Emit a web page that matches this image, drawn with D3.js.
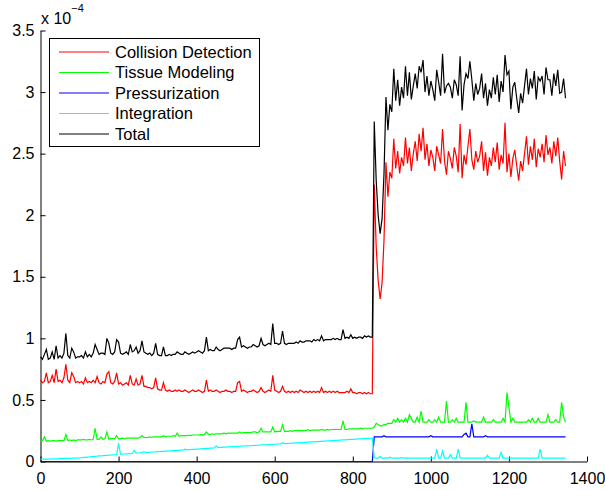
<!DOCTYPE html>
<meta charset="utf-8">
<script src="https://d3js.org/d3.v7.min.js"></script>
<style>
  body { margin: 0; background: #fff; }
  text { font-family: "Liberation Sans", Arial, Helvetica, sans-serif; }
</style>
<body>
<div id="chart"></div>
<script>

// one reading every 5 iterations, x = 0, 5, ... 1345 (values in units of 1e-4)
var sampleStep = 5;

var collision = [
  0.66,0.64,0.65,0.72,0.64,0.65,0.70,0.64,0.75,0.65,
  0.66,0.64,0.68,0.79,0.66,0.64,0.72,0.69,0.64,0.65,
  0.64,0.65,0.63,0.68,0.64,0.65,0.64,0.66,0.64,0.69,
  0.64,0.63,0.65,0.64,0.71,0.73,0.64,0.63,0.65,0.72,
  0.63,0.64,0.62,0.63,0.64,0.62,0.70,0.63,0.62,0.67,
  0.62,0.63,0.70,0.61,0.61,0.60,0.60,0.59,0.60,0.68,
  0.59,0.58,0.58,0.64,0.58,0.57,0.58,0.57,0.57,0.58,
  0.57,0.58,0.57,0.57,0.58,0.57,0.56,0.57,0.58,0.57,
  0.57,0.58,0.57,0.56,0.57,0.66,0.57,0.58,0.57,0.57,
  0.58,0.57,0.56,0.57,0.57,0.58,0.57,0.57,0.56,0.57,
  0.57,0.64,0.65,0.57,0.58,0.57,0.56,0.57,0.57,0.58,
  0.57,0.56,0.57,0.60,0.57,0.56,0.57,0.58,0.57,0.70,
  0.58,0.57,0.56,0.57,0.61,0.57,0.56,0.57,0.56,0.57,
  0.56,0.57,0.56,0.58,0.57,0.56,0.57,0.56,0.57,0.56,
  0.57,0.56,0.57,0.56,0.60,0.56,0.57,0.56,0.57,0.56,
  0.57,0.56,0.57,0.56,0.56,0.56,0.56,0.57,0.56,0.59,
  0.56,0.56,0.55,0.56,0.56,0.55,0.56,0.55,0.56,0.55,
  0.55,
  2.25,1.74,1.47,1.32,1.45,1.80,2.43,2.15,2.35,2.30,
  2.62,2.38,2.52,2.34,2.47,2.40,2.63,2.42,2.55,2.36,
  2.50,2.60,2.44,2.66,2.52,2.71,2.45,2.58,2.40,2.53,
  2.47,2.36,2.56,2.49,2.42,2.70,2.44,2.33,2.52,2.46,
  2.38,2.55,2.48,2.35,2.74,2.30,2.49,2.41,2.56,2.70,
  2.45,2.37,2.52,2.43,2.48,2.60,2.36,2.51,2.32,2.47,
  2.40,2.55,2.43,2.59,2.37,2.49,2.42,2.75,2.35,2.50,
  2.31,2.46,2.53,2.40,2.28,2.44,2.36,2.50,2.64,2.41,
  2.56,2.45,2.62,2.39,2.54,2.47,2.58,2.43,2.65,2.49,
  2.55,2.42,2.60,2.48,2.63,2.44,2.29,2.52,2.40
];

var tissue = [
  0.165,0.17,0.2,0.165,0.17,0.165,0.17,0.17,0.165,0.17,
  0.17,0.17,0.17,0.22,0.17,0.175,0.17,0.175,0.17,0.175,
  0.175,0.175,0.18,0.175,0.175,0.18,0.175,0.18,0.27,0.18,
  0.18,0.2,0.18,0.185,0.24,0.18,0.185,0.185,0.185,0.21,
  0.185,0.185,0.19,0.185,0.19,0.19,0.19,0.19,0.19,0.19,
  0.19,0.195,0.21,0.195,0.195,0.195,0.2,0.195,0.2,0.2,
  0.2,0.2,0.2,0.21,0.2,0.205,0.205,0.205,0.21,0.205,
  0.23,0.205,0.21,0.21,0.21,0.21,0.215,0.21,0.215,0.215,
  0.215,0.215,0.22,0.215,0.22,0.24,0.22,0.22,0.225,0.22,
  0.225,0.225,0.225,0.225,0.23,0.225,0.23,0.23,0.23,0.23,
  0.23,0.23,0.24,0.23,0.235,0.235,0.235,0.235,0.235,0.24,
  0.24,0.235,0.24,0.27,0.24,0.24,0.24,0.24,0.24,0.28,
  0.24,0.245,0.245,0.245,0.30,0.245,0.245,0.245,0.25,0.245,
  0.25,0.25,0.25,0.25,0.25,0.25,0.25,0.26,0.25,0.255,
  0.255,0.255,0.255,0.255,0.26,0.255,0.255,0.26,0.255,0.26,
  0.26,0.26,0.26,0.26,0.26,0.33,0.26,0.26,0.265,0.265,
  0.265,0.265,0.265,0.265,0.27,0.265,0.27,0.27,0.27,0.27,
  0.27,
  0.28,0.31,0.30,0.29,0.29,0.30,0.30,0.31,0.31,0.31,
  0.34,0.32,0.35,0.32,0.34,0.32,0.35,0.32,0.38,0.35,
  0.32,0.32,0.36,0.32,0.41,0.32,0.32,0.32,0.34,0.32,
  0.32,0.34,0.32,0.36,0.32,0.32,0.32,0.49,0.32,0.32,
  0.34,0.32,0.35,0.32,0.32,0.32,0.32,0.48,0.32,0.32,
  0.32,0.33,0.32,0.32,0.32,0.32,0.36,0.32,0.32,0.32,
  0.32,0.34,0.32,0.32,0.32,0.32,0.35,0.32,0.56,0.44,
  0.32,0.35,0.32,0.32,0.32,0.32,0.32,0.32,0.32,0.34,
  0.32,0.35,0.32,0.32,0.35,0.32,0.32,0.32,0.32,0.38,
  0.32,0.32,0.32,0.34,0.32,0.32,0.48,0.36,0.32
];

var pressurization = [
  0,0,0,0,0,0,0,0,0,0, 0,0,0,0,0,0,0,0,0,0,
  0,0,0,0,0,0,0,0,0,0, 0,0,0,0,0,0,0,0,0,0,
  0,0,0,0,0,0,0,0,0,0, 0,0,0,0,0,0,0,0,0,0,
  0,0,0,0,0,0,0,0,0,0, 0,0,0,0,0,0,0,0,0,0,
  0,0,0,0,0,0,0,0,0,0, 0,0,0,0,0,0,0,0,0,0,
  0,0,0,0,0,0,0,0,0,0, 0,0,0,0,0,0,0,0,0,0,
  0,0,0,0,0,0,0,0,0,0, 0,0,0,0,0,0,0,0,0,0,
  0,0,0,0,0,0,0,0,0,0, 0,0,0,0,0,0,0,0,0,0,
  0,0,0,0,0,0,0,0,0,0,
  0,
  0.2,0.2,0.2,0.2,0.2,0.21,0.2,0.2,0.2,0.2,
  0.2,0.2,0.2,0.2,0.2,0.2,0.2,0.2,0.2,0.2,
  0.2,0.2,0.2,0.2,0.2,0.2,0.2,0.2,0.2,0.21,
  0.2,0.2,0.2,0.2,0.2,0.2,0.2,0.2,0.2,0.2,
  0.2,0.2,0.2,0.2,0.2,0.2,0.22,0.23,0.2,0.2,
  0.305,0.2,0.2,0.2,0.2,0.2,0.2,0.21,0.2,0.2,
  0.2,0.2,0.2,0.2,0.2,0.2,0.2,0.2,0.2,0.2,
  0.2,0.2,0.2,0.2,0.2,0.2,0.2,0.2,0.2,0.2,
  0.2,0.2,0.2,0.2,0.2,0.2,0.2,0.2,0.2,0.2,
  0.2,0.2,0.2,0.2,0.2,0.2,0.2,0.2,0.2
];

var integration = [
  0.020,0.020,0.020,0.020,0.020,0.020,0.022,0.022,0.022,0.022,
  0.025,0.025,0.025,0.025,0.025,0.025,0.027,0.027,0.027,0.027,
  0.030,0.031,0.033,0.034,0.036,0.037,0.039,0.040,0.042,0.043,
  0.045,0.046,0.047,0.049,0.050,0.051,0.053,0.054,0.055,0.057,
  0.150,0.059,0.060,0.061,0.062,0.063,0.064,0.065,0.090,0.068,
  0.069,0.070,0.071,0.080,0.073,0.074,0.075,0.076,0.077,0.078,
  0.080,0.081,0.082,0.083,0.084,0.085,0.086,0.087,0.088,0.089,
  0.090,0.091,0.092,0.093,0.100,0.095,0.096,0.097,0.098,0.099,
  0.100,0.101,0.103,0.104,0.105,0.106,0.107,0.108,0.109,0.110,
  0.125,0.113,0.114,0.115,0.116,0.117,0.118,0.119,0.120,0.121,
  0.122,0.123,0.124,0.125,0.126,0.127,0.127,0.128,0.129,0.130,
  0.131,0.132,0.133,0.134,0.135,0.136,0.136,0.137,0.138,0.139,
  0.140,0.141,0.142,0.143,0.152,0.145,0.146,0.147,0.148,0.149,
  0.150,0.151,0.152,0.153,0.154,0.155,0.156,0.157,0.158,0.159,
  0.160,0.161,0.162,0.163,0.164,0.165,0.166,0.167,0.168,0.169,
  0.170,0.171,0.172,0.173,0.174,0.175,0.176,0.177,0.178,0.179,
  0.180,0.181,0.182,0.183,0.184,0.185,0.186,0.187,0.188,0.189,
  0.190,
  0.030,0.028,0.028,0.040,0.028,0.028,0.030,0.028,0.035,0.028,
  0.028,0.030,0.028,0.028,0.032,0.028,0.028,0.030,0.028,0.028,
  0.028,0.028,0.028,0.028,0.028,0.028,0.028,0.028,0.028,0.028,
  0.028,0.028,0.100,0.028,0.028,0.085,0.028,0.028,0.028,0.055,
  0.028,0.028,0.028,0.100,0.028,0.028,0.028,0.028,0.028,0.028,
  0.028,0.028,0.028,0.028,0.028,0.028,0.028,0.028,0.050,0.028,
  0.028,0.028,0.028,0.028,0.028,0.075,0.028,0.028,0.028,0.028,
  0.028,0.028,0.028,0.028,0.028,0.028,0.028,0.028,0.028,0.028,
  0.028,0.028,0.028,0.028,0.028,0.100,0.028,0.028,0.028,0.028,
  0.028,0.028,0.028,0.028,0.028,0.028,0.028,0.028,0.028
];

var total = [
  0.85,0.83,0.87,0.91,0.83,0.84,0.89,0.83,0.94,0.84,
  0.86,0.84,0.88,1.04,0.86,0.84,0.92,0.89,0.84,0.85,
  0.85,0.86,0.84,0.89,0.85,0.87,0.85,0.88,0.95,0.91,
  0.87,0.88,0.88,0.87,1.00,0.96,0.88,0.87,0.89,0.99,
  0.97,0.88,0.87,0.88,0.89,0.87,0.95,0.89,0.90,0.93,
  0.88,0.90,0.98,0.89,0.88,0.87,0.88,0.86,0.88,0.96,
  0.87,0.86,0.86,0.93,0.86,0.86,0.87,0.86,0.87,0.87,
  0.89,0.88,0.87,0.87,0.89,0.88,0.87,0.88,0.89,0.88,
  0.89,0.90,0.89,0.88,0.90,1.01,0.90,0.91,0.90,0.90,
  0.93,0.91,0.90,0.91,0.92,0.92,0.92,0.92,0.91,0.92,
  0.92,0.99,1.01,0.93,0.94,0.93,0.92,0.93,0.93,0.95,
  0.94,0.93,0.94,1.00,0.95,0.94,0.95,0.96,0.95,1.12,
  0.96,0.96,0.95,0.96,1.06,0.96,0.95,0.96,0.96,0.96,
  0.96,0.97,0.96,0.98,0.97,0.97,0.98,0.98,0.98,0.97,
  0.99,0.98,0.99,0.98,1.02,0.98,0.99,0.99,0.99,0.99,
  1.00,0.99,1.00,0.99,0.99,1.07,1.00,1.01,1.00,1.03,
  1.00,1.01,1.00,1.01,1.01,1.00,1.02,1.01,1.02,1.01,
  1.01,
  2.76,2.28,2.00,1.85,1.97,2.34,2.96,2.69,2.90,2.84,
  3.19,2.93,3.10,2.89,3.04,2.95,3.21,2.97,3.16,2.94,
  3.05,3.15,3.03,3.21,3.16,3.26,3.00,3.13,2.97,3.09,
  3.02,2.93,3.18,3.08,2.97,3.31,2.99,3.05,3.07,3.04,
  2.95,3.10,3.06,2.97,3.29,2.85,3.06,3.15,3.11,3.25,
  3.10,2.93,3.07,2.98,3.03,3.15,2.95,3.07,2.89,3.02,
  2.95,3.12,2.98,3.14,2.92,3.09,3.00,3.30,3.14,3.17,
  2.86,3.04,3.08,2.95,2.83,2.99,2.91,3.05,3.19,2.98,
  3.11,3.03,3.17,2.94,3.12,3.09,3.13,2.98,3.20,3.10,
  3.10,2.97,3.15,3.05,3.18,2.99,3.00,3.11,2.95
];

var seriesNames = ["Collision Detection", "Tissue Modeling", "Pressurization", "Integration", "Total"];
var seriesColors = ["#ff0000", "#00ff00", "#0000ff", "#00ffff", "#000000"];
var allSeries = [collision, tissue, pressurization, integration, total];

var xTicks = [0, 200, 400, 600, 800, 1000, 1200, 1400];
var yTicks = [0, 0.5, 1, 1.5, 2, 2.5, 3, 3.5];

var width = 605, height = 490;
var margin = {top: 30.5, left: 40.5, right: 18, bottom: 28.5};

var svg = d3.select("#chart")
  .append("svg")
    .attr("width", width)
    .attr("height", height);

var x = d3.scaleLinear()
  .domain([0, 1400])
  .range([margin.left, width - margin.right]);

var y = d3.scaleLinear()
  .domain([0, 3.5])
  .range([height - margin.bottom, margin.top]);

// axes, ticks pointing inward like matlab
svg.append("g")
  .attr("transform", "translate(0," + y(0) + ")")
  .call(d3.axisBottom(x).tickValues(xTicks).tickFormat(d3.format("d"))
    .tickSizeInner(-5).tickSizeOuter(0).tickPadding(11))
  .call(function(g) {
    g.selectAll("text").style("font-size", "16px").attr("fill", "#000");
    g.selectAll("line, path").attr("stroke", "#000");
  });

svg.append("g")
  .attr("transform", "translate(" + x(0) + ",0)")
  .call(d3.axisLeft(y).tickValues(yTicks).tickFormat(function(d) { return d; })
    .tickSizeInner(-5).tickSizeOuter(0).tickPadding(6))
  .call(function(g) {
    g.selectAll("text").style("font-size", "16px").attr("fill", "#000");
    g.selectAll("line, path").attr("stroke", "#000");
  });

// exponent label
var expo = svg.append("text")
  .attr("x", 41)
  .attr("y", 23.5)
  .style("font-size", "16px");
expo.append("tspan").text("x 10");
expo.append("tspan").attr("dy", -12).style("font-size", "11px").text("\u22124");

// lines
var line = d3.line()
  .x(function(d, i) { return x(i * sampleStep); })
  .y(function(d) { return y(d); });

allSeries.forEach(function(s, k) {
  svg.append("path")
    .datum(s)
    .attr("d", line)
    .attr("fill", "none")
    .attr("stroke", seriesColors[k])
    .attr("stroke-width", 1.2);
});

// legend
var legend = svg.append("g");
legend.append("rect")
  .attr("x", 49.5).attr("y", 38.5)
  .attr("width", 210).attr("height", 108)
  .attr("fill", "#fff")
  .attr("stroke", "#000");

seriesNames.forEach(function(name, k) {
  var ly = 52 + k * 20.5;
  legend.append("line")
    .attr("x1", 59).attr("x2", 109)
    .attr("y1", ly).attr("y2", ly)
    .attr("stroke", seriesColors[k])
    .attr("stroke-width", 1);
  legend.append("text")
    .attr("x", 115).attr("y", ly)
    .attr("dy", "0.36em")
    .style("font-size", "16.5px")
    .text(name);
});

</script>
</body>
